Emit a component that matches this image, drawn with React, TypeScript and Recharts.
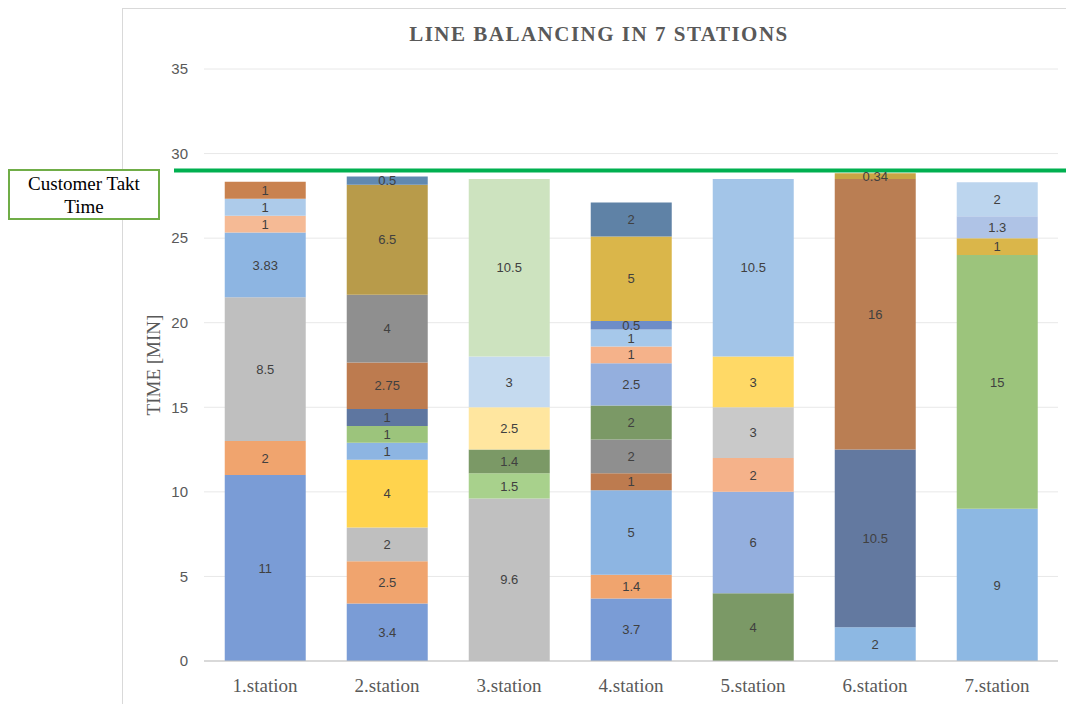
import React from "react";
import { BarChart, Bar, XAxis, YAxis, CartesianGrid, ReferenceLine, LabelList, Cell } from "recharts";

const stations = ["1.station", "2.station", "3.station", "4.station", "5.station", "6.station", "7.station"];

// Operation times per station, stacked from bottom to top (minutes)
const station1Times = [11, 2, 8.5, 3.83, 1, 1, 1];
const station2Times = [3.4, 2.5, 2, 4, 1, 1, 1, 2.75, 4, 6.5, 0.5];
const station3Times = [9.6, 1.5, 1.4, 2.5, 3, 10.5];
const station4Times = [3.7, 1.4, 5, 1, 2, 2, 2.5, 1, 1, 0.5, 5, 2];
const station5Times = [4, 6, 2, 3, 3, 10.5];
const station6Times = [2, 10.5, 16, 0.34];
const station7Times = [9, 15, 1, 1.3, 2];

const yTicks = [0, 5, 10, 15, 20, 25, 30, 35];
const taktTime = 29;

// Styling: segment colours per station (bottom to top)
const station1Colors = ["#7A9CD6", "#F0A46E", "#BFBFBF", "#8DB5E2", "#F5BA95", "#ADCBEA", "#C9824F"];
const station2Colors = ["#7A9CD6", "#F0A46E", "#BFBFBF", "#FFD34D", "#8DB5E2", "#9CC47C", "#5E76A0", "#BD7B4F", "#8F8F8F", "#B89B4A", "#6189B0"];
const station3Colors = ["#C0C0C0", "#A8D18C", "#7B9966", "#FFE69F", "#C5DAEF", "#CDE3BF"];
const station4Colors = ["#7A9CD6", "#F0A46E", "#8DB5E2", "#BD7B4F", "#8F8F8F", "#7B9966", "#94AFDE", "#F5B28A", "#A6C8EA", "#6E8DC8", "#DAB64A", "#5F82A6"];
const station5Colors = ["#7B9966", "#94AFDE", "#F5B28A", "#C9C9C9", "#FFD966", "#A3C5E8"];
const station6Colors = ["#8DB8E3", "#6379A0", "#BA7E53", "#C8A545"];
const station7Colors = ["#8DB8E3", "#9CC47C", "#DAB64A", "#AFC3E6", "#BCD5EE"];

const stationTimes = [station1Times, station2Times, station3Times, station4Times, station5Times, station6Times, station7Times];
const stationColors = [station1Colors, station2Colors, station3Colors, station4Colors, station5Colors, station6Colors, station7Colors];

const layerCount = Math.max(...stationTimes.map((s) => s.length));
const layerKeys = Array.from({ length: layerCount }, (_, k) => `layer${k}`);

const data = stations.map((name, i) => {
  const row: Record<string, any> = { name };
  stationTimes[i].forEach((v, k) => {
    row[`layer${k}`] = v;
  });
  return row;
});

const SERIF = "'Liberation Serif', 'Times New Roman', serif";
const SANS = "'Liberation Sans', Arial, sans-serif";

const YLabel = (props: any) => {
  const vb = props.viewBox || { y: 0, height: 0 };
  const cy = vb.y + vb.height / 2;
  const cx = 153;
  return (
    <text
      x={cx}
      y={cy}
      transform={`rotate(-90 ${cx} ${cy})`}
      textAnchor="middle"
      dominantBaseline="central"
      fontFamily={SERIF}
      fontSize={19}
      fill="#595959"
    >
      TIME [MIN]
    </text>
  );
};

export default function App() {
  return (
    <div style={{ position: "absolute", left: 0, top: 0, width: 1066, height: 704, overflow: "hidden", background: "#fff" }}>
      <div
        style={{
          position: "absolute",
          left: 122,
          top: 8,
          width: 944,
          height: 696,
          borderLeft: "1px solid #D9D9D9",
          borderTop: "1px solid #D9D9D9",
          boxSizing: "border-box",
        }}
      />
      <div style={{ position: "absolute", left: 0, top: 0 }}>
        <BarChart
          width={1066}
          height={704}
          data={data}
          margin={{ top: 69, right: 8, bottom: 0, left: 0 }}
          barCategoryGap="17%"
        >
          <CartesianGrid vertical={false} stroke="#E8E8E8" />
          <XAxis
            dataKey="name"
            height={43}
            axisLine={{ stroke: "#BFBFBF" }}
            tickLine={false}
            tickMargin={12}
            tick={{ fontFamily: SERIF, fontSize: 19, fill: "#595959" }}
          />
          <YAxis
            width={204}
            domain={[0, 35]}
            ticks={yTicks}
            axisLine={false}
            tickLine={false}
            tickMargin={10}
            tick={{ fontFamily: SANS, fontSize: 15, fill: "#595959" }}
            label={{ content: YLabel }}
          />
          {layerKeys.map((key, k) => (
            <Bar key={key} dataKey={key} stackId="a" isAnimationActive={false}>
              {data.map((_, i) => (
                <Cell key={i} fill={stationColors[i][k] || "#cccccc"} />
              ))}
              <LabelList dataKey={key} position="center" fill="#404040" fontSize={13} fontFamily={SANS} />
            </Bar>
          ))}
          <ReferenceLine
            y={taktTime}
            stroke="#00B050"
            strokeWidth={4}
            shape={(p: any) => (
              <line x1={p.x1 - 30} y1={p.y1} x2={p.x2 + 8} y2={p.y2} stroke="#00B050" strokeWidth={4} />
            )}
          />
        </BarChart>
      </div>
      <div
        style={{
          position: "absolute",
          left: 299,
          top: 24,
          width: 600,
          textAlign: "center",
          fontFamily: SERIF,
          fontWeight: "bold",
          fontSize: 21,
          lineHeight: "21px",
          letterSpacing: 1.5,
          color: "#595959",
          whiteSpace: "nowrap",
        }}
      >
        LINE BALANCING IN 7 STATIONS
      </div>
      <div
        style={{
          position: "absolute",
          left: 8,
          top: 169,
          width: 152,
          height: 51,
          boxSizing: "border-box",
          border: "2px solid #70AD47",
          background: "#fff",
          display: "flex",
          alignItems: "center",
          justifyContent: "center",
          textAlign: "center",
          fontFamily: SERIF,
          fontSize: 19,
          lineHeight: "23px",
          color: "#000",
        }}
      >
        Customer Takt Time
      </div>
    </div>
  );
}
